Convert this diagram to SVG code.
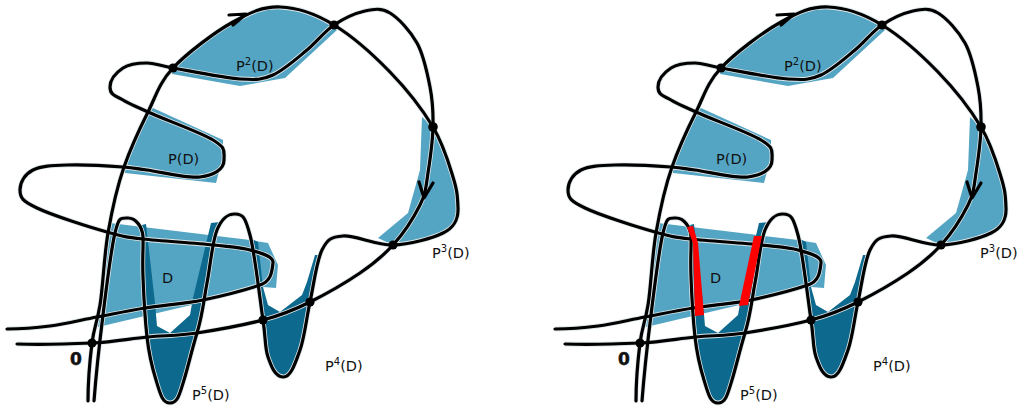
<svg xmlns="http://www.w3.org/2000/svg" xmlns:xlink="http://www.w3.org/1999/xlink" width="1018" height="408" viewBox="0 0 1018 408">
<style>
.l{fill:#54a5c4}.d{fill:#0d6a8e}.h{fill:none;stroke:#dfe8ea;stroke-width:4.8}.k{fill:none;stroke:#000;stroke-width:3.2;stroke-linecap:round;stroke-linejoin:round}
.t{font-family:"DejaVu Sans",sans-serif;font-size:14.5px;fill:#111}.s{font-size:10px}.o{font-family:"DejaVu Sans",sans-serif;font-size:17px;font-weight:bold;fill:#111;stroke:#111;stroke-width:.5}.r{fill:#f00}
</style>
<defs>
<path id="ws" d="M88 401C88 385 90 359 92 343S97 323 100 305S104 256 108 233S117 187 124 167S140 128 148 112S159 83 173 68S215 32 233 22S263 6.5 280 7S316 14 334 25S373.5 55 390 72S422.5 109.5 433 127S449 164 453 177S457.5 195 458 208S453 228 443 233S409.7 244.5 393 245S355 235 343 236S327.5 239 322 250S313.7 285 310 302S304.5 337.5 300 350S291 377.5 283 377S271.3 366.5 268 357S266 340 263 320S254.7 252.7 250 235S243 214 235 214S221.7 218.5 217 230S210.3 266 207 283S203 313 197 333S188 367 184 380S178 403 170 403S160 393 156 380S149 355 147 337S143.8 297.5 143 277S143.5 247 143 237S136 218 128 218S119 217 115 233S106.5 287 103 315S96 375 94 401"/>
<path id="wu" d="M17 344C40 345 70 344 92 343S129.5 338.7 147 337S178 336 197 333S244 325 263 320S294 310 310 302S346 282.5 360 273S383 256 393 245S414 217 420 205S426 186 428 173S432.7 141 433 127S432.7 101 430 87S423.7 55 417 43S398.7 18.3 390 13S374 9 365 11S343.7 18.5 334 25S317 41.7 307 50S284 70 273 75S256.7 80 240 79S188.5 70.7 173 68S155 63 147 63S129 64 123 68S110 78 110 87S116.7 96 123 100S133 105 148 112S200 132 213 140S224 150 224 160S213 175.3 200 177S160 171.7 147 170S136 168 123 167S82 164.5 67 165S41 166 33 170S20 182 20 190S22.5 201 37 208S89 227 107 232S125 237 143 239S195 243 213 245S240 247 250 250S274 256 273 263S272 281 260 285S222 296 203 300S163 305 145 308S113 314 97 317S65 324 50 326S25 329 7 329"/>
<g id="art">
<path class="l" d="M173 68C187 53 215 32 233 22S263 6.5 280 7S316 14 334 25L337 30L285 78L240 86L172 74Z"/>
<path class="l" d="M153 108L223 140L223 157L216 183L125 173L124 167C131 147 140 128 148 112Z"/>
<path class="l" d="M433 127C443.5 144.5 449 164 453 177S457.5 195 458 208S453 228 443 233S409.7 244.5 393 245L378 238L408 213L420 170L422 117Z"/>
<path class="l" d="M110 223L250 240L268 243L278 265L276 288L263 287L200 303L98 327Z"/>
<path class="d" d="M142 225L146 224L155 303L157 326L170 333L190 315L193 298L211 223L220 222L217 230C212.3 241.5 210.3 266 207 283S203 313 197 333S188 367 184 380S178 403 170 403S160 393 156 380S149 355 147 337S143.8 297.5 143 277Z"/>
<path class="d" d="M250 238L258 242L263 287L268 305L280 312L302 295L307 282L315 255L320 255L322 250C316.5 261 313.7 285 310 302S304.5 337.5 300 350S291 377.5 283 377S271.3 366.5 268 357S266 340 263 320S254.7 252.7 250 235Z"/>
<use href="#ws" class="h"/><use href="#wu" class="h"/>
<use href="#ws" class="k"/><use href="#wu" class="k"/>
<path class="k" d="M229 15L246 14L233 25M419 182L424 198L433 183"/>
<circle cx="173" cy="68" r="4.6"/><circle cx="334" cy="25" r="4.6"/><circle cx="433" cy="127" r="4.8"/><circle cx="393" cy="245" r="4.6"/><circle cx="310" cy="302" r="4.6"/><circle cx="263" cy="320" r="4.6"/><circle cx="92" cy="343" r="4.6"/>
</g>
</defs>
<g id="panel-left">
<use href="#art"/>
<text class="t" x="236" y="71">P<tspan class="s" dy="-6">2</tspan><tspan dy="6">(D)</tspan></text>
<text class="t" x="168" y="164">P(D)</text>
<text class="t" x="162" y="283">D</text>
<text class="t" x="432" y="258">P<tspan class="s" dy="-6">3</tspan><tspan dy="6">(D)</tspan></text>
<text class="t" x="325" y="371">P<tspan class="s" dy="-6">4</tspan><tspan dy="6">(D)</tspan></text>
<text class="t" x="192" y="400">P<tspan class="s" dy="-6">5</tspan><tspan dy="6">(D)</tspan></text>
<text class="o" x="70" y="365">0</text>
</g>
<g id="panel-right">
<use href="#art" x="548"/>
<path class="r" d="M687 227L693 226L698 243L704 315L695 316L693 243Z"/>
<path class="r" d="M754 236L762 236L748 305L739 306Z"/>
<text class="t" x="784" y="71">P<tspan class="s" dy="-6">2</tspan><tspan dy="6">(D)</tspan></text>
<text class="t" x="716" y="164">P(D)</text>
<text class="t" x="710" y="283">D</text>
<text class="t" x="980" y="258">P<tspan class="s" dy="-6">3</tspan><tspan dy="6">(D)</tspan></text>
<text class="t" x="873" y="371">P<tspan class="s" dy="-6">4</tspan><tspan dy="6">(D)</tspan></text>
<text class="t" x="740" y="400">P<tspan class="s" dy="-6">5</tspan><tspan dy="6">(D)</tspan></text>
<text class="o" x="618" y="365">0</text>
</g>
</svg>
